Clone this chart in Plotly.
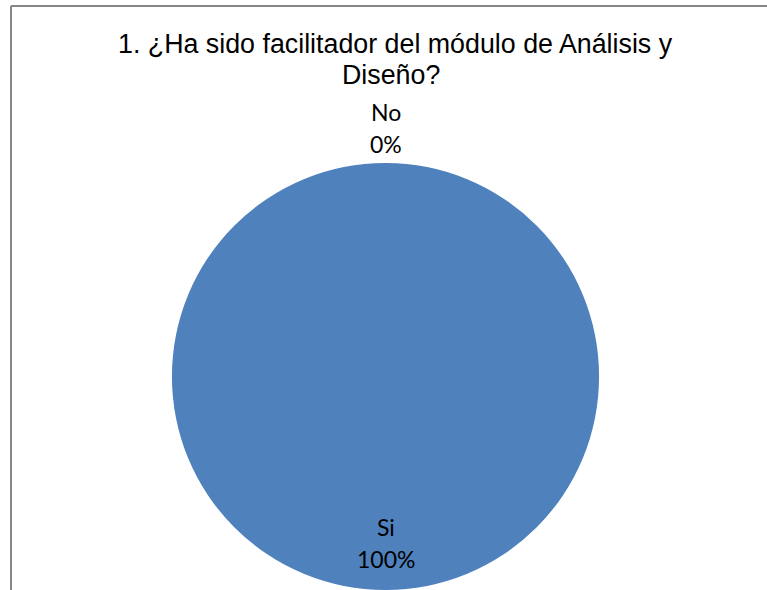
import plotly.graph_objects as go

# Survey answers and their shares (percent)
labels = ["Si", "No"]
values = [100, 0]
title_lines = ["1. ¿Ha sido facilitador del módulo de Análisis y", "Diseño?"]

W, H = 767, 590
pie_color = "#4F81BD"

fig = go.Figure()

# Pie sits in a square domain touching the bottom of the chart
side = 427
cx = 385.5
fig.add_trace(go.Pie(
    labels=labels,
    values=values,
    sort=False,
    direction="clockwise",
    rotation=180,
    marker=dict(colors=[pie_color, "#C0504D"], line=dict(width=0)),
    textinfo="none",
    hoverinfo="label+percent",
    showlegend=False,
    domain=dict(x=[(cx - side / 2) / W, (cx + side / 2) / W], y=[0, side / H]),
))

# Data labels: category name above its percentage (pixel rows from the top)
total = sum(values)
label_rows = {"No": (112, 144), "Si": (527, 559)}
label_font = dict(family="Lato", size=23, color="#000000")
annotations = []
for lab, val in zip(labels, values):
    pct = round(100 * val / total)
    for txt, row in zip([lab, f"{pct}%"], label_rows[lab]):
        annotations.append(dict(
            text=txt, x=cx / W, y=1 - row / H, xref="paper", yref="paper",
            xanchor="center", yanchor="middle", showarrow=False,
            font=label_font,
        ))

# Chart title, one annotation per line
title_font = dict(family="Liberation Sans", size=26.8, color="#000000")
for txt, (tx, row) in zip(title_lines, [(395, 44), (391, 75)]):
    annotations.append(dict(
        text=txt, x=tx / W, y=1 - row / H, xref="paper", yref="paper",
        xanchor="center", yanchor="middle", showarrow=False,
        font=title_font,
    ))

# Chart-area frame (left and top edges visible)
border = "#878787"
shapes = [
    dict(type="line", xref="paper", yref="paper", x0=11 / W, x1=11 / W, y0=0, y1=1 - 6 / H,
         line=dict(color=border, width=2)),
    dict(type="line", xref="paper", yref="paper", x0=11 / W, x1=1, y0=1 - 6 / H, y1=1 - 6 / H,
         line=dict(color=border, width=2)),
]

fig.update_layout(
    width=W, height=H,
    margin=dict(l=0, r=0, t=0, b=0),
    paper_bgcolor="#FFFFFF",
    plot_bgcolor="#FFFFFF",
    annotations=annotations,
    shapes=shapes,
)

fig.write_html("out.html")
